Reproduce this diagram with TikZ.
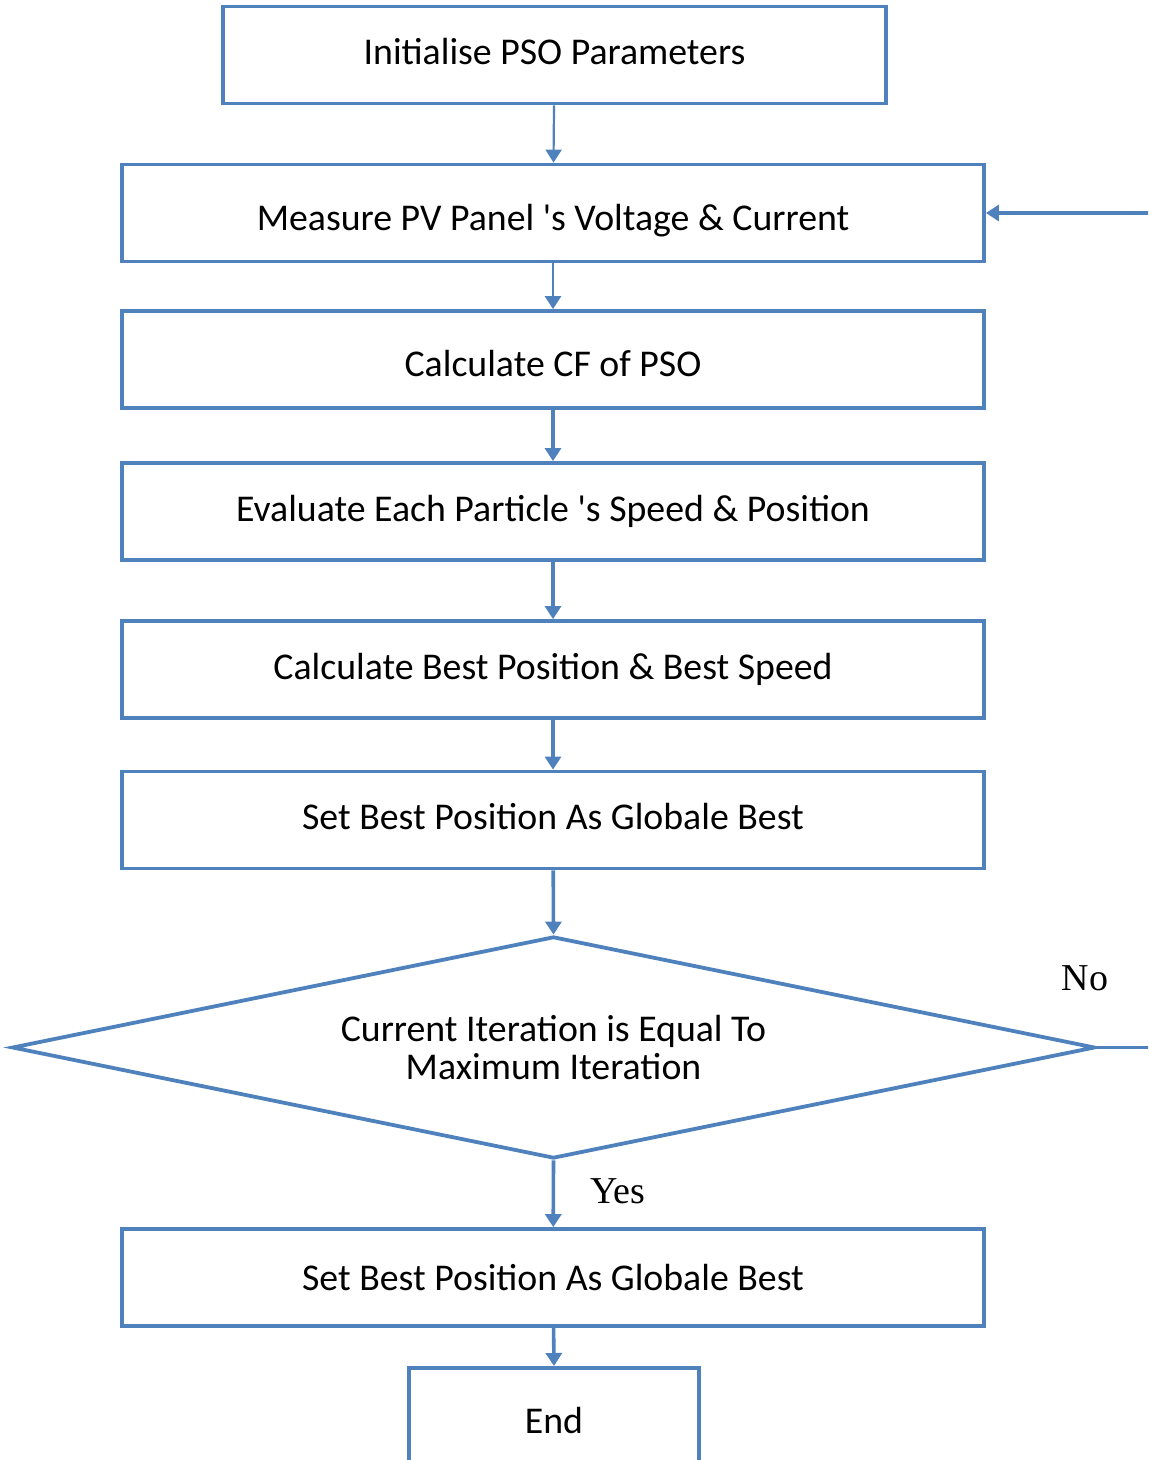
\documentclass[tikz,border=0pt]{standalone}
\usepackage{fontspec}
\setmainfont{Carlito}[Ligatures=TeXOff]
\newfontfamily\serifl{Liberation Serif}
\usetikzlibrary{shapes.geometric,arrows.meta}
\definecolor{flowblue}{RGB}{79,129,189}
% move a label up or down inside its box without changing its size
\newcommand{\nudge}[2]{\raisebox{#1}[\height][\depth]{#2}}
\begin{document}
\begin{tikzpicture}[x=0.5pt,y=-0.5pt,
  flowline/.style={draw=flowblue,line width=1.9pt},
  boxfont/.style={font=\fontsize{18.9}{19}\selectfont,text=black},
  procbox/.style={flowline,rectangle,minimum width=431pt,minimum height=48.5pt,inner sep=0pt,boxfont},
  decision/.style={flowline,diamond,aspect=4.88,minimum width=541.5pt,minimum height=111pt,inner sep=0pt,
    boxfont,align=center},
  flowarrow/.style={draw=flowblue,line width=1.8pt,-{Triangle[width=8pt,length=6.5pt]}},
  branchlabel/.style={font=\serifl\fontsize{19}{20}\selectfont,text=black}]
\useasboundingbox (0,0) rectangle (1148,1460);
\clip (0,0) rectangle (1148,1460);

% process steps
\node[procbox,minimum width=331.5pt] (init) at (554.5,55) {\nudge{1.5pt}{Initialise PSO Parameters}};
\node[procbox] (measure) at (553,213) {\nudge{-4pt}{Measure PV Panel 's Voltage \& Current}};
\node[procbox] (cf) at (553,359.5) {\nudge{-2pt}{Calculate CF of PSO}};
\node[procbox] (eval) at (553,511.5) {Evaluate Each Particle 's Speed \& Position};
\node[procbox] (best) at (553,669.5) {Calculate Best Position \& Best Speed};
\node[procbox] (gbest) at (553,820) {\nudge{1.5pt}{Set Best Position As Globale Best}};

% termination test
\node[decision] (check) at (553.5,1047.5) {Current Iteration is Equal To\\Maximum Iteration};

\node[procbox] (final) at (553,1277.5) {Set Best Position As Globale Best};

% end box, open at the lower edge of the page
\node[flowline,rectangle,minimum width=145pt,minimum height=100pt,anchor=north,inner sep=0pt] (endbox) at (554,1366) {};
\node[boxfont] (endtext) at (554,1420) {End};

% connectors
\draw[flowarrow,line width=1.1pt] (init) -- (measure);
\draw[flowarrow,line width=1.3pt] (measure) -- (cf);
\draw[flowarrow] (cf) -- (eval);
\draw[flowarrow] (eval) -- (best);
\draw[flowarrow] (best) -- (gbest);
\draw[flowarrow] (gbest) -- (check.north);
\draw[flowarrow] (check.south) -- (final);
\draw[flowarrow] (final) -- (endbox.north);

% loop back when the iteration limit is not reached
\coordinate (loopright) at (1180,1047.5);
\coordinate (looptop) at (1180,213);
\draw[flowarrow] (check.east) -- (loopright) -- (looptop) -- (measure.east |- looptop);

\node[branchlabel] (nolabel) at (1085,978) {No};
\node[branchlabel] (yeslabel) at (618,1191) {Yes};
\end{tikzpicture}
\end{document}
